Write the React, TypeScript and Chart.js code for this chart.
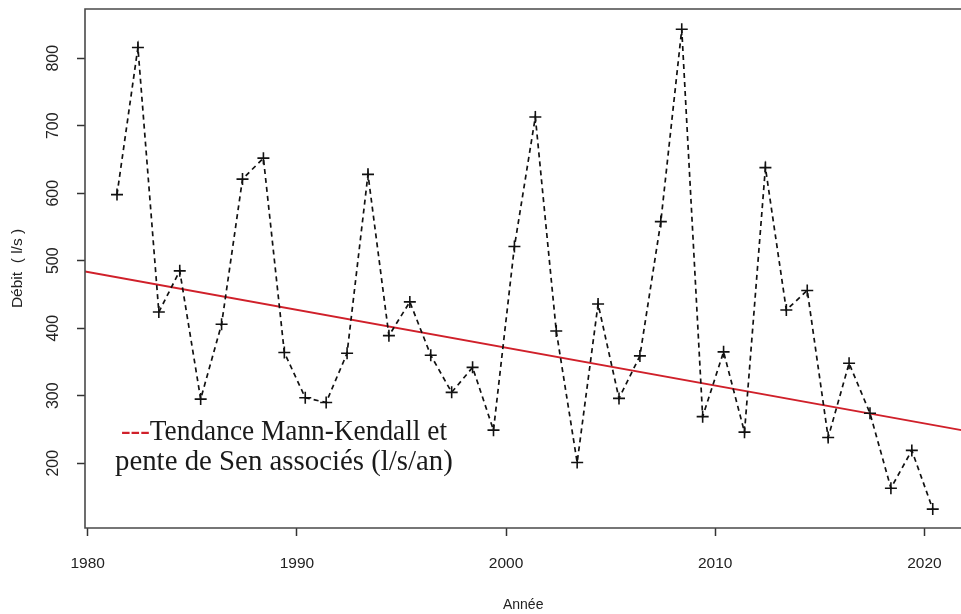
import React, { useEffect, useRef } from "react";
import { Chart, registerables } from "chart.js";

Chart.register(...registerables);

// Hydrological years and flow values (l/s)
const YEARS = [
  1981, 1982, 1983, 1984, 1985, 1986, 1987, 1988, 1989, 1990,
  1991, 1992, 1993, 1994, 1995, 1996, 1997, 1998, 1999, 2000,
  2001, 2002, 2003, 2004, 2005, 2006, 2007, 2008, 2009, 2010,
  2011, 2012, 2013, 2014, 2015, 2016, 2017, 2018, 2019, 2020,
];
const X_OFFSET = 0.4;
const DEBIT = [
  598, 816, 424, 485, 295, 406, 621, 652, 364, 297,
  290, 363, 628, 389, 439, 360, 305, 342, 249, 521,
  713, 396, 201, 436, 296, 359, 558, 843, 269, 365,
  246, 638, 427, 456, 238, 348, 274, 163, 219, 132,
];
// Sen slope trend line end points (year, l/s)
const TREND_X = [1979.87, 2021.77];
const TREND_Y = [484, 249];

const X_TICKS = [1980, 1990, 2000, 2010, 2020];
const Y_TICKS = [200, 300, 400, 500, 600, 700, 800];
const X_MIN = 1979.87;
const X_MAX = 2021.77;
const Y_MIN = 104;
const Y_MAX = 873;

const LEGEND_LINE1 = "Tendance Mann-Kendall et";
const LEGEND_LINE2 = "pente de Sen associés (l/s/an)";

const boxPlugin = {
  id: "rbox",
  afterDraw(chart: any) {
    const { ctx, chartArea } = chart;
    ctx.save();
    ctx.strokeStyle = "#4a4a4a";
    ctx.lineWidth = 1.6;
    ctx.beginPath();
    ctx.moveTo(chartArea.right + 2, chartArea.top);
    ctx.lineTo(chartArea.left, chartArea.top);
    ctx.lineTo(chartArea.left, chartArea.bottom);
    ctx.lineTo(chartArea.right + 2, chartArea.bottom);
    ctx.stroke();

    // legend annotation
    const serif = '"Liberation Serif", "DejaVu Serif", serif';
    let size = 24;
    ctx.font = `${size}px ${serif}`;
    const w2 = ctx.measureText(LEGEND_LINE2).width;
    size = size * (338 / w2);
    ctx.font = `${size}px ${serif}`;
    ctx.textBaseline = "alphabetic";
    ctx.textAlign = "left";
    const x1 = 121;
    const y1 = 440;
    ctx.fillStyle = "#d0202a";
    ctx.fillText("---", x1, y1);
    const dw = ctx.measureText("---").width;
    ctx.fillStyle = "#1a1a1a";
    ctx.fillText(LEGEND_LINE1, x1 + dw, y1, 447 - (x1 + dw));
    ctx.fillText(LEGEND_LINE2, 115, 470);
    ctx.restore();
  },
};

const noPad = (s: any) => {
  s.paddingTop = 0;
  s.paddingBottom = 0;
  s.paddingLeft = 0;
  s.paddingRight = 0;
};

export default function App() {
  const ref = useRef<HTMLCanvasElement>(null);
  useEffect(() => {
    document.body.style.margin = "0";
    document.body.style.overflow = "hidden";
    const canvas = ref.current!;
    const sans = '"Liberation Sans", Arial, sans-serif';
    const chart = new Chart(canvas, {
      type: "scatter",
      data: {
        datasets: [
          {
            label: "Débit",
            data: YEARS.map((y, i) => ({ x: y + X_OFFSET, y: DEBIT[i] })),
            showLine: true,
            borderColor: "#111",
            borderWidth: 1.7,
            borderDash: [5, 4],
            pointStyle: "cross",
            pointRadius: 6,
            pointBorderWidth: 1.6,
            pointBorderColor: "#111",
            pointBackgroundColor: "#111",
            order: 1,
          },
          {
            label: "Tendance",
            data: TREND_X.map((x, i) => ({ x, y: TREND_Y[i] })),
            showLine: true,
            borderColor: "#d0202a",
            borderWidth: 2,
            pointRadius: 0,
            order: 2,
          },
        ],
      },
      options: {
        animation: false,
        responsive: false,
        devicePixelRatio: 1,
        layout: { padding: { top: 9, left: 0, right: 0, bottom: 0 } },
        plugins: { legend: { display: false }, tooltip: { enabled: false } },
        scales: {
          x: {
            type: "linear",
            min: X_MIN,
            max: X_MAX,
            afterBuildTicks: (s: any) => {
              s.ticks = X_TICKS.map((v) => ({ value: v }));
            },
            afterFit: (s: any) => {
              s.height = 86;
              noPad(s);
            },
            border: { display: false },
            grid: {
              drawOnChartArea: false,
              drawTicks: true,
              tickLength: 8,
              tickColor: "#333",
              tickWidth: 1.5,
            },
            ticks: {
              padding: 18,
              color: "#222",
              font: { family: sans, size: 15.5 },
              callback: (v: any) => String(v),
              maxRotation: 0,
              autoSkip: false,
            },
            title: {
              display: true,
              text: "Année",
              color: "#222",
              font: { family: sans, size: 14 },
              padding: { top: 0, bottom: 0 },
            },
          },
          y: {
            type: "linear",
            min: Y_MIN,
            max: Y_MAX,
            afterBuildTicks: (s: any) => {
              s.ticks = Y_TICKS.map((v) => ({ value: v }));
            },
            afterFit: (s: any) => {
              s.width = 85;
              noPad(s);
            },
            border: { display: false },
            grid: {
              drawOnChartArea: false,
              drawTicks: true,
              tickLength: 8,
              tickColor: "#333",
              tickWidth: 1.5,
            },
            ticks: {
              padding: 10,
              minRotation: 90,
              maxRotation: 90,
              crossAlign: "center",
              color: "#222",
              font: { family: sans, size: 16 },
              callback: (v: any) => String(v),
              autoSkip: false,
            },
            title: {
              display: true,
              text: "Débit  ( l/s )",
              color: "#222",
              font: { family: sans, size: 15.5 },
              padding: { top: 8, bottom: 0 },
            },
          },
        },
      },
      plugins: [boxPlugin],
    });
    return () => chart.destroy();
  }, []);
  return (
    <div style={{ width: 961, height: 614, background: "#fff", overflow: "hidden" }}>
      <canvas ref={ref} width={969} height={614} />
    </div>
  );
}
